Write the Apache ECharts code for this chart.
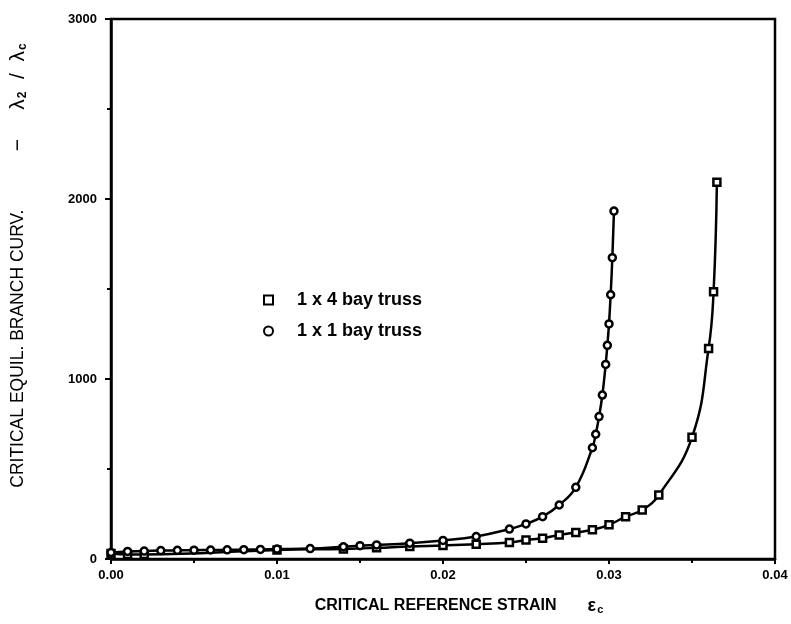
<!DOCTYPE html>
<html><head><meta charset="utf-8">
<script src="https://cdn.jsdelivr.net/npm/echarts@6/dist/echarts.min.js"></script>
<style>html,body{margin:0;padding:0;background:#fff}#c{width:791px;height:624px}</style>
</head><body><div id="c"></div>
<script>
const xTicks = [0, 0.01, 0.02, 0.03, 0.04];
const yTicks = [0, 1000, 2000, 3000];
const seriesNames = ['1 x 4 bay truss', '1 x 1 bay truss'];

const strain4 = [0, 0.001, 0.002, 0.010, 0.014, 0.016, 0.018, 0.020, 0.022, 0.024, 0.025, 0.026, 0.027, 0.028, 0.029, 0.030, 0.031, 0.032, 0.033, 0.035, 0.036, 0.0363, 0.0365];
const curv4   = [30, 25, 25, 50, 56, 62, 70, 75, 82, 92, 105, 115, 134, 147, 162, 190, 235, 272, 356, 676, 1170, 1485, 2093];

const strain1 = [0, 0.001, 0.002, 0.003, 0.004, 0.005, 0.006, 0.007, 0.008, 0.009, 0.010, 0.012, 0.014, 0.015, 0.016, 0.018, 0.020, 0.022, 0.024, 0.025, 0.026, 0.027, 0.028, 0.029, 0.0292, 0.0294, 0.0296, 0.0298, 0.0299, 0.030, 0.0301, 0.0302, 0.0303];
const curv1   = [36, 42, 44, 47, 48, 49, 50, 51, 52, 53, 55, 58, 68, 74, 78, 88, 103, 125, 166, 195, 235, 300, 398, 618, 693, 791, 911, 1081, 1187, 1306, 1468, 1674, 1933];

const pairs = (xs, ys) => xs.map((x, i) => [x, ys[i]]);
const font = '"Liberation Sans", Arial, sans-serif';

const chart = echarts.init(document.getElementById('c'));
chart.setOption({
  animation: false,
  backgroundColor: '#fff',
  grid: { left: 111, right: 16, top: 19, bottom: 65, show: true, borderColor: '#000', borderWidth: 2.5 },
  xAxis: {
    type: 'value', min: xTicks[0], max: xTicks[xTicks.length - 1], interval: 0.01,
    axisLine: { lineStyle: { color: '#000', width: 2.5 } },
    axisTick: { length: 5, lineStyle: { color: '#000', width: 2 } },
    minorTick: { show: true, splitNumber: 2, length: 4, lineStyle: { color: '#000', width: 2 } },
    splitLine: { show: false },
    axisLabel: { formatter: v => v.toFixed(2), color: '#000', fontFamily: font, fontWeight: 'bold', fontSize: 13, margin: 10 }
  },
  yAxis: {
    type: 'value', min: yTicks[0], max: yTicks[yTicks.length - 1], interval: 1000,
    axisLine: { lineStyle: { color: '#000', width: 2.5 } },
    axisTick: { length: 6, lineStyle: { color: '#000', width: 2 } },
    minorTick: { show: true, splitNumber: 2, length: 4, lineStyle: { color: '#000', width: 2 } },
    splitLine: { show: false },
    axisLabel: { formatter: v => String(v), color: '#000', fontFamily: font, fontWeight: 'bold', fontSize: 13, margin: 14 }
  },
  graphic: [
    {
      type: 'text', x: 18, y: 265, rotation: Math.PI / 2,
      style: {
        text: '{t|CRITICAL EQUIL. BRANCH CURV.}{sp|            }{l|−     λ}{s|2}{l|  /  λ}{s|c}',
        align: 'center', verticalAlign: 'middle',
        rich: {
          t: { fontFamily: font, fontSize: 17.5, fill: '#000' },
          sp: { fontSize: 17.5 },
          l: { fontFamily: font, fontSize: 21, fill: '#000' },
          s: { fontFamily: font, fontWeight: 'bold', fontSize: 12, fill: '#000', padding: [9, 1, 0, 1] }
        }
      }
    },
    {
      type: 'text', x: 459, y: 606,
      style: {
        text: '{t|CRITICAL REFERENCE STRAIN}{sp|       }{g|ε}{s|c}',
        align: 'center', verticalAlign: 'middle',
        rich: {
          t: { fontFamily: font, fontWeight: 'bold', fontSize: 16, fill: '#000' },
          sp: { fontSize: 16 },
          g: { fontFamily: font, fontWeight: 'bold', fontSize: 18, fill: '#000' },
          s: { fontFamily: font, fontWeight: 'bold', fontSize: 11, fill: '#000', padding: [8, 0, 0, 1] }
        }
      }
    }
  ],
  legend: {
    orient: 'vertical', left: 258, top: 286, itemGap: 13,
    itemWidth: 9, itemHeight: 9,
    textStyle: { fontFamily: font, fontSize: 18, fontWeight: 'bold', color: '#000', padding: [0, 0, 0, 19] },
    data: [{ name: seriesNames[0], icon: 'rect' }, { name: seriesNames[1], icon: 'circle' }]
  },
  series: [
    {
      name: seriesNames[0], type: 'line', data: pairs(strain4, curv4),
      smooth: 0.45,
      symbol: 'rect', symbolSize: 7,
      lineStyle: { color: '#000', width: 2.5 },
      itemStyle: { color: '#fff', borderColor: '#000', borderWidth: 2.5 }
    },
    {
      name: seriesNames[1], type: 'line', data: pairs(strain1, curv1),
      smooth: 0.45,
      symbol: 'circle', symbolSize: 7,
      lineStyle: { color: '#000', width: 2.5 },
      itemStyle: { color: '#fff', borderColor: '#000', borderWidth: 2.5 }
    }
  ]
});
</script></body></html>
